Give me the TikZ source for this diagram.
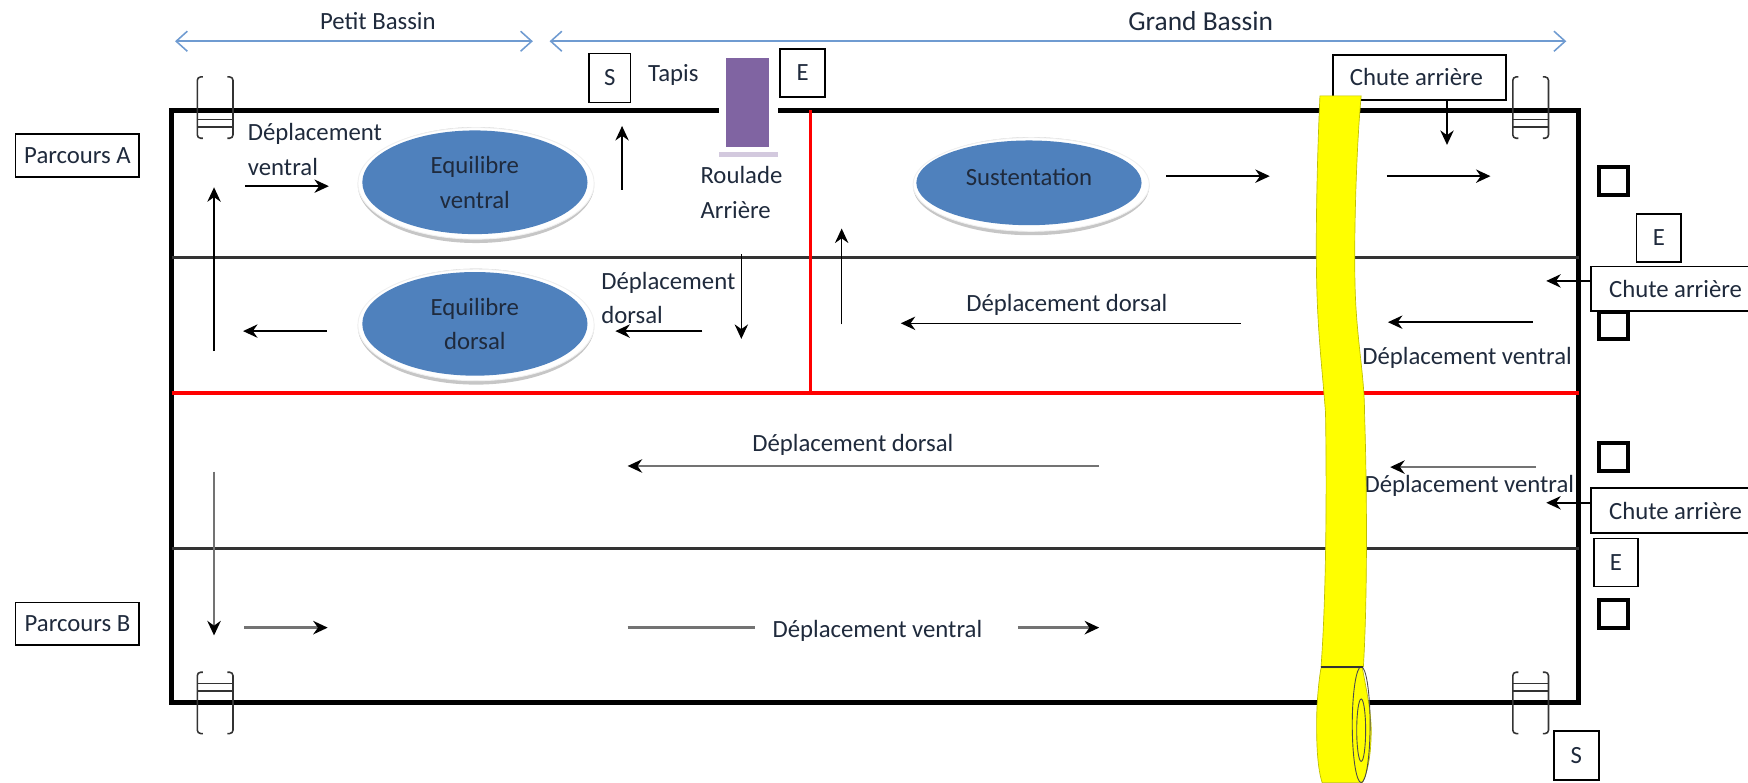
\documentclass[tikz,border=0pt]{standalone}
\usepackage{fontspec}
\setmainfont{Carlito}
\usetikzlibrary{arrows.meta}
\usetikzlibrary{shapes.geometric}
\definecolor{basinblue}{HTML}{6F9BD1}
\definecolor{discblue}{HTML}{4F81BD}
\definecolor{matpurple}{HTML}{8064A2}
\definecolor{darktext}{HTML}{1F2A3C}
\definecolor{bandyellow}{rgb}{1,1,0}
\tikzset{every node/.style={font=\fontsize{11.1}{15.5}\selectfont,text=darktext},
	labelbox/.style={draw=black,fill=white,thick,inner sep=0pt,minimum height=19pt},
	markbox/.style={draw=black,line width=1.8pt,inner sep=0pt,minimum width=12.9pt,minimum height=12.4pt},
	disc/.style={ellipse,fill=discblue,inner sep=0pt,minimum width=101pt,minimum height=46.5pt,align=center},
	walk/.style={-{Stealth[length=6.5pt,width=6pt,black]},line width=0.7pt,black},
	walkgray/.style={-{Stealth[length=6.5pt,width=6pt,black]},line width=1.1pt,black!55},
	basin/.style={{Straight Barb[length=5pt,width=9pt]}-{Straight Barb[length=5pt,width=9pt]},basinblue,line width=0.7pt},
	wall/.style={draw=black,line width=2pt},
	lane/.style={draw=black!80,line width=1pt},
	rail/.style={draw=black!80,line width=0.7pt,rounded corners=1.5pt}}

\begin{document}
\begin{tikzpicture}[x=0.5pt,y=-0.5pt]
	\clip (0,0) rectangle (1568,702);
	% pool
	\draw[wall] (154,99) rectangle (1416,630);
	\draw[lane] (154,231) -- (1416,231);
	\draw[lane] (154,492) -- (1416,492);
	\draw[red,line width=1.5pt] (154,352.5) -- (1416,352.5);
	\draw[red,line width=1.1pt] (727,99) -- (727,352.5);

	% ladders
	\foreach \lx/\ly/\ra/\rb in {193/69/107/114, 1373/69/107/114, 193/603/613/620, 1373/603/613/620}
	{
		\draw[rail] (\lx-11,\ly) -- (\lx-16,\ly) -- (\lx-16,\ly+55) -- (\lx-11,\ly+55);
		\draw[rail] (\lx+11,\ly) -- (\lx+16,\ly) -- (\lx+16,\ly+55) -- (\lx+11,\ly+55);
		\draw[rail] (\lx-16,\ra) -- (\lx+16,\ra);
		\draw[rail] (\lx-16,\rb) -- (\lx+16,\rb);
	}

	% bassins
	\node(petit) at (339,19) {Petit Bassin};
	\node[font=\fontsize{12.3}{15}\selectfont](grand) at (1077,19) {Grand Bassin};
	\draw[basin] (157,37) -- (478,37);
	\draw[basin] (493,37) -- (1405,37);

	% parcours
	\node[labelbox,minimum width=55.5pt](parcoursA) at (69.5,139.5) {Parcours A};
	\node[labelbox,minimum width=55.5pt](parcoursB) at (69.5,559.5) {Parcours B};

	% tapis
	\node[labelbox,minimum width=18.5pt,minimum height=22pt](tapisS) at (547,70) {S};
	\node(tapis) at (604,67) {Tapis};
	\fill[white] (645,47) rectangle (698,141);
	\fill[matpurple!35] (645,136) rectangle (698,141);
	\fill[matpurple] (651,52) rectangle (690,132);
	\node[labelbox,minimum width=20pt,minimum height=21.5pt](tapisE) at (720,65.5) {E};
	\node[anchor=west,align=left,inner sep=0pt](roulade) at (628,172.5) {Roulade\\Arrière};

	% ateliers
	\foreach \cx/\cy/\ry in {427/163/50, 427/290/50, 925/164/42}
	{
		\fill[gray!45] (\cx,\cy+3) ellipse [x radius=106,y radius=\ry+2];
		\draw[draw=gray!12,fill=white] (\cx,\cy+1.5) ellipse [x radius=106,y radius=\ry];
	}
	\node[disc](eqventral) at (426,163.5) {\raisebox{-1pt}{Equilibre}\\\raisebox{-1pt}{ventral}};
	\node[disc](eqdorsal) at (426,290.5) {\raisebox{-1pt}{Equilibre}\\\raisebox{-1pt}{dorsal}};
	\node[disc,minimum height=38pt](sustentation) at (923,164) {\raisebox{5pt}{Sustentation}};

	% parcours A
	\node[anchor=west,align=left,inner sep=0pt](depA) at (222,134) {Déplacement\\ventral};
	\node[anchor=west,align=left,inner sep=0pt](depB) at (539,267.5) {Déplacement\\dorsal};
	\node(depC) at (957,273.5) {Déplacement dorsal};
	\node(depD) at (1316,321) {Déplacement ventral};
	\draw[walk] (220,167) -- (295,167);
	\draw[walk] (192,315) -- (192,168);
	\draw[walk] (293,297) -- (218,297);
	\draw[walk] (558,170) -- (558,113);
	\draw[walk] (630,297) -- (552,297);
	\draw[walk] (665,228) -- (665,304);
	\draw[walk] (755,291) -- (755,205);
	\draw[walk] (1113,290) -- (808,290);
	\draw[walk] (1046,158) -- (1139,158);
	\draw[walk] (1244,158) -- (1337,158);
	\draw[walk] (1375,289) -- (1245,289);

	% parcours B
	\node(depE) at (765,399) {Déplacement dorsal};
	\node(depF) at (1318,436) {Déplacement ventral};
	\node(depG) at (787,566) {Déplacement ventral};
	\draw[walkgray] (986,418) -- (563,418);
	\draw[walkgray] (1378,419) -- (1247,419);
	\draw[walkgray] (192,423) -- (192,570);
	\draw[walkgray] (219,563) -- (294,563);
	\draw[walkgray,-] (563,563) -- (677,563);
	\draw[walkgray] (913,563) -- (986,563);

	% bande jaune
	\node[labelbox,minimum width=77.5pt,minimum height=20pt](chuteA) at (1273.5,69.5) {\raisebox{-2pt}{\hspace*{-3pt}Chute arrière}};
	\draw[fill=bandyellow,draw=bandyellow!75!black,line width=0.3pt] (1184,86) -- (1221,86) .. controls (1216,140) and (1214,230) .. (1216,270) .. controls (1218,310) and (1224,340) .. (1224,370) .. controls (1226,430) and (1227,530) .. (1223,598) -- (1185,598) .. controls (1190,530) and (1190,430) .. (1189,370) .. controls (1186,330) and (1182,300) .. (1181,250) .. controls (1180,200) and (1182,130) .. (1184,86) -- cycle;
	\draw[fill=bandyellow,draw=bandyellow!75!black,line width=0.3pt] (1185,599) -- (1222,599) .. controls (1226,620) and (1230,640) .. (1230,655) .. controls (1230,680) and (1226,695) .. (1222,702) -- (1186,702) .. controls (1182,690) and (1181,670) .. (1181,650) .. controls (1181,630) and (1183,610) .. (1185,599) -- cycle;
	\draw[black!70,line width=0.4pt] (1221,650) ellipse [x radius=8,y radius=52];
	\draw[black!70,line width=0.4pt] (1221,655) ellipse [x radius=4,y radius=28];
	\draw[black!80,line width=1pt] (1185,598) -- (1223,598);

	% boites droite
	\node[markbox](markA) at (1447.5,162.5) {};
	\node[markbox](markB) at (1447.5,292) {};
	\node[markbox](markC) at (1447.5,410) {};
	\node[markbox](markD) at (1447.5,551) {};
	\node[labelbox,minimum width=20pt,minimum height=21.5pt](rightE) at (1488,213.5) {E};
	\node[labelbox,minimum width=85pt,minimum height=20pt](chuteB) at (1512,259) {\raisebox{-1.5pt}{\hspace*{-9pt}Chute arrière}};
	\node[labelbox,minimum width=85pt,minimum height=20pt](chuteC) at (1512,458) {\raisebox{-3pt}{\hspace*{-9pt}Chute arrière}};
	\node[labelbox,minimum width=20pt,minimum height=21.5pt](rightEb) at (1449.5,504.5) {E};
	\node[labelbox,minimum width=20pt,minimum height=22pt](rightS) at (1414,678) {S};

	% chutes
	\coordinate(landA) at (1298,130);
	\coordinate(landB) at (1387,252);
	\coordinate(landC) at (1387,451);
	\draw[walk] (chuteA.south -| landA) -- (landA);
	\draw[walk] (chuteB.west |- landB) -- (landB);
	\draw[walk] (chuteC.west |- landC) -- (landC);
\end{tikzpicture}
\end{document}
